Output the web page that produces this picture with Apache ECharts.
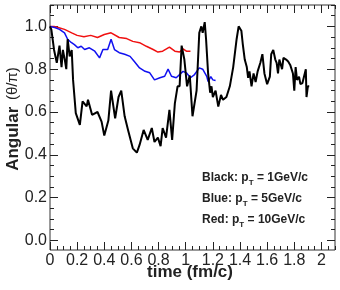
<!DOCTYPE html>
<html>
<head>
<meta charset="utf-8">
<script src="https://cdn.jsdelivr.net/npm/echarts@6/dist/echarts.min.js"></script>
<style>
  html, body { margin: 0; padding: 0; background: #fff; }
  #chart { width: 340px; height: 290px; }
</style>
</head>
<body>
<div id="chart"></div>
<script>
// tick labels
const xLabels = [0, 0.2, 0.4, 0.6, 0.8, 1, 1.2, 1.4, 1.6, 1.8, 2];
const yLabels = [0, 0.2, 0.4, 0.6, 0.8, 1.0];

// [time, angle]
const blackData = [
  [0, 1.0], [0.01, 0.985], [0.03, 0.89], [0.05, 0.83], [0.07, 0.91], [0.085, 0.81],
  [0.095, 0.89], [0.11, 0.84], [0.12, 0.80], [0.13, 0.94], [0.145, 0.86], [0.16, 0.89],
  [0.17, 0.75], [0.19, 0.595], [0.22, 0.54], [0.24, 0.65], [0.27, 0.626], [0.28, 0.657],
  [0.31, 0.587], [0.35, 0.60], [0.38, 0.555], [0.40, 0.49], [0.43, 0.56], [0.45, 0.70],
  [0.48, 0.57], [0.505, 0.67], [0.525, 0.70], [0.55, 0.58], [0.575, 0.516], [0.61, 0.43],
  [0.64, 0.41], [0.66, 0.446], [0.69, 0.516], [0.72, 0.47], [0.75, 0.525], [0.77, 0.46],
  [0.795, 0.48], [0.815, 0.44], [0.83, 0.525], [0.855, 0.48], [0.88, 0.61], [0.90, 0.47],
  [0.92, 0.64], [0.94, 0.72], [0.955, 0.72], [0.97, 0.91], [0.99, 0.845], [1.01, 0.72],
  [1.03, 0.77], [1.05, 0.58], [1.08, 0.70], [1.10, 0.97], [1.115, 1.0], [1.125, 0.97],
  [1.14, 1.02], [1.15, 0.94], [1.165, 0.78], [1.18, 0.69], [1.19, 0.72], [1.20, 0.67],
  [1.22, 0.70], [1.24, 0.625], [1.26, 0.68], [1.275, 0.657], [1.30, 0.67], [1.325, 0.72],
  [1.35, 0.81], [1.375, 0.94], [1.39, 1.0], [1.41, 0.98], [1.42, 0.92], [1.435, 0.845],
  [1.45, 0.81], [1.46, 0.76], [1.47, 0.79], [1.485, 0.72], [1.50, 0.78], [1.515, 0.74],
  [1.53, 0.79], [1.55, 0.83], [1.565, 0.87], [1.58, 0.78], [1.60, 0.73], [1.62, 0.765],
  [1.63, 0.87], [1.645, 0.89], [1.66, 0.845], [1.67, 0.83], [1.68, 0.78], [1.69, 0.845],
  [1.71, 0.80], [1.72, 0.853], [1.74, 0.845], [1.755, 0.836], [1.77, 0.82], [1.79, 0.78],
  [1.80, 0.70], [1.81, 0.81], [1.82, 0.75], [1.835, 0.765], [1.845, 0.73], [1.86, 0.735],
  [1.87, 0.73], [1.885, 0.80], [1.89, 0.67], [1.90, 0.72], [1.91, 0.72]
];
const blueData = [
  [0, 1.0], [0.035, 0.995], [0.07, 0.986], [0.107, 0.97], [0.13, 0.94], [0.156, 0.925],
  [0.18, 0.915], [0.205, 0.90], [0.23, 0.907], [0.255, 0.892], [0.29, 0.90], [0.33, 0.884],
  [0.365, 0.853], [0.39, 0.892], [0.425, 0.892], [0.45, 0.94], [0.475, 0.892], [0.51, 0.877],
  [0.55, 0.87], [0.59, 0.86], [0.62, 0.837], [0.66, 0.806], [0.70, 0.79], [0.735, 0.783],
  [0.77, 0.75], [0.81, 0.76], [0.845, 0.767], [0.87, 0.80], [0.895, 0.767], [0.93, 0.76],
  [0.94, 0.755], [0.98, 0.79], [1.005, 0.783], [1.035, 0.76], [1.065, 0.775], [1.10, 0.806],
  [1.125, 0.80], [1.155, 0.767], [1.165, 0.742], [1.185, 0.765], [1.20, 0.75], [1.22, 0.747]
];
const redData = [
  [0, 1.0], [0.03, 1.0], [0.06, 0.995], [0.107, 0.986], [0.16, 0.97], [0.20, 0.958],
  [0.25, 0.952], [0.30, 0.958], [0.35, 0.948], [0.40, 0.962], [0.45, 0.97], [0.46, 0.97],
  [0.51, 0.948], [0.565, 0.943], [0.61, 0.93], [0.66, 0.924], [0.71, 0.907], [0.76, 0.892],
  [0.795, 0.88], [0.83, 0.884], [0.88, 0.903], [0.92, 0.884], [0.955, 0.88], [0.98, 0.895],
  [1.005, 0.884], [1.035, 0.884]
];

const legendLines = [
  ['Black: p', 'T', ' = 1GeV/c'],
  ['Blue: p', 'T', ' = 5GeV/c'],
  ['Red: p', 'T', ' = 10GeV/c']
];

const FONT = '"Liberation Sans", Arial, Helvetica, sans-serif';
const INK = '#222';

// minor tick positions every 0.05
const xMinor = [];
for (let i = 0; i <= 42; i++) xMinor.push(+(i * 0.05).toFixed(2));
const yMinor = [];
for (let i = 0; i <= 22; i++) yMinor.push(+(i * 0.05).toFixed(2));

const fmtX = v => String(+v.toFixed(1));
const fmtY = v => v.toFixed(1);

function xAx(pos, ticks, len, labels) {
  return {
    type: 'value', min: 0, max: 2.1, position: pos,
    axisLine: { show: false, onZero: false }, splitLine: { show: false },
    axisTick: { inside: true, length: len, customValues: ticks, lineStyle: { color: INK, width: 1 } },
    axisLabel: labels
      ? { customValues: xLabels, margin: 3, fontSize: 16, color: INK, fontFamily: FONT, formatter: fmtX }
      : { show: false }
  };
}
function yAx(pos, ticks, len, labels) {
  return {
    type: 'value', min: -0.045, max: 1.1, position: pos,
    axisLine: { show: false, onZero: false }, splitLine: { show: false },
    axisTick: { inside: true, length: len, customValues: ticks, lineStyle: { color: INK, width: 1 } },
    axisLabel: labels
      ? { customValues: yLabels, margin: 3, fontSize: 16, color: INK, fontFamily: FONT, formatter: fmtY }
      : { show: false }
  };
}

const chart = echarts.init(document.getElementById('chart'));

const graphics = [
  {
    type: 'text', x: 190, y: 272,
    style: { text: 'time (fm/c)', font: 'bold 17px ' + FONT, fill: INK, align: 'center', verticalAlign: 'middle' }
  },
  {
    type: 'text', x: 13, y: 119, rotation: Math.PI / 2,
    style: {
      text: '{a|Angular}  {b|(θ/π)}', align: 'center', verticalAlign: 'middle',
      rich: {
        a: { fontSize: 17, fontWeight: 'bold', fontFamily: FONT, fill: INK },
        b: { fontSize: 15, fontFamily: FONT, fill: INK }
      }
    }
  }
];
legendLines.forEach((parts, i) => {
  graphics.push({
    type: 'text', x: 202, y: 178 + i * 21,
    style: {
      text: '{m|' + parts[0] + '}{s|' + parts[1] + '}{m|' + parts[2] + '}',
      verticalAlign: 'middle',
      rich: {
        m: { fontSize: 12, fontWeight: 'bold', fontFamily: FONT, fill: INK, lineHeight: 18, verticalAlign: 'middle' },
        s: { fontSize: 8, fontWeight: 'bold', fontFamily: FONT, fill: INK, lineHeight: 10, verticalAlign: 'bottom' }
      }
    }
  });
});

chart.setOption({
  animation: false,
  backgroundColor: '#fff',
  grid: { left: 50, right: 5, top: 5, bottom: 40, show: true, borderColor: '#333', borderWidth: 1 },
  xAxis: [
    xAx('bottom', xLabels, 8, true),
    xAx('bottom', xMinor, 4, false),
    xAx('top', xLabels, 8, false),
    xAx('top', xMinor, 4, false)
  ],
  yAxis: [
    yAx('left', yLabels, 8, true),
    yAx('left', yMinor, 4, false),
    yAx('right', yLabels, 8, false),
    yAx('right', yMinor, 4, false)
  ],
  graphic: graphics,
  series: [
    { type: 'line', data: redData, showSymbol: false, lineStyle: { color: '#f01010', width: 1.5 }, z: 3 },
    { type: 'line', data: blueData, showSymbol: false, lineStyle: { color: '#1010f0', width: 1.5 }, z: 3 },
    { type: 'line', data: blackData, showSymbol: false, lineStyle: { color: '#000', width: 2 }, z: 4 }
  ]
});
</script>
</body>
</html>
